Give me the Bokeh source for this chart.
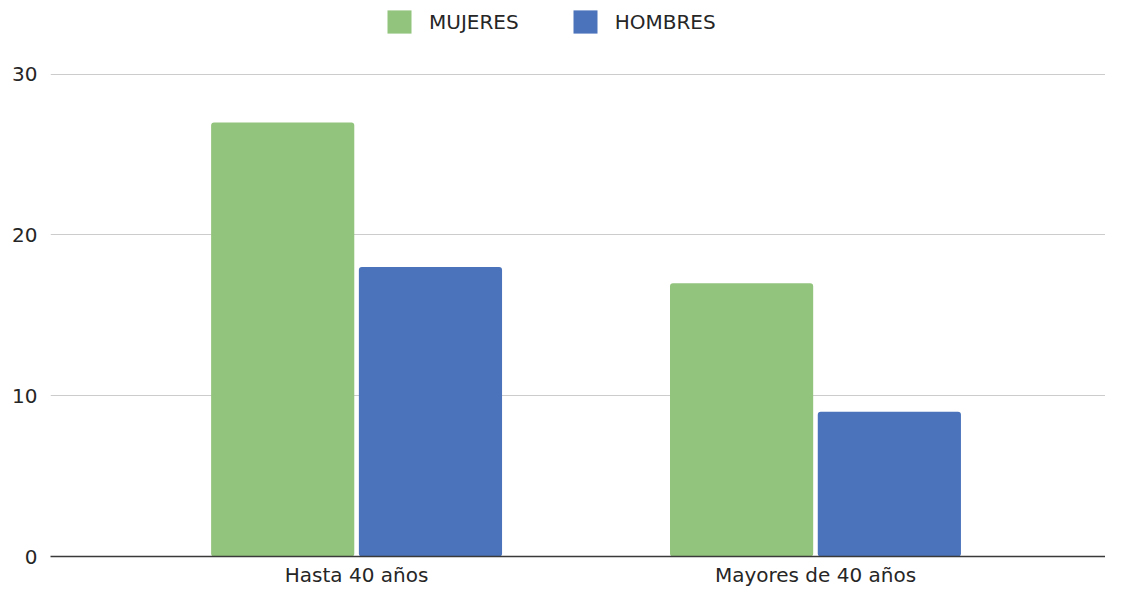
from bokeh.plotting import figure
from bokeh.models import ColumnDataSource, Range1d, FixedTicker, Legend, LegendItem
from bokeh.transform import dodge
from bokeh.embed import file_html
from bokeh.resources import INLINE

categories = ["Hasta 40 años", "Mayores de 40 años"]
series_names = ["MUJERES", "HOMBRES"]
mujeres = [27, 17]
hombres = [18, 9]
y_ticks = [0, 10, 20, 30]
colors = ["#93c47d", "#4a73bb"]

cat_pos = list(range(len(categories)))
source = ColumnDataSource(data=dict(pos=cat_pos, cat=categories, mujeres=mujeres, hombres=hombres))

FONT = "DejaVu Sans"
TEXT = "#262626"

p = figure(
    x_range=Range1d(-0.667, 1.632),
    y_range=Range1d(0, 34.58),
    width=1105, height=589,
    output_backend="svg", toolbar_location=None,
    min_border_left=50, min_border_right=0, min_border_top=0, min_border_bottom=30,
)
p.outline_line_color = None

r1 = p.vbar(x=dodge("pos", -0.161), top="mujeres", width=0.312,
            source=source, fill_color=colors[0], line_color=None, border_radius=3)
r2 = p.vbar(x=dodge("pos", 0.161), top="hombres", width=0.312,
            source=source, fill_color=colors[1], line_color=None, border_radius=3)

p.yaxis.ticker = FixedTicker(ticks=y_ticks)
p.yaxis.axis_line_color = None
p.yaxis.major_tick_line_color = None
p.yaxis.major_tick_out = 0
p.yaxis.minor_tick_line_color = None
p.yaxis.major_label_standoff = 13
p.yaxis.major_label_text_font = FONT
p.yaxis.major_label_text_font_size = "20px"
p.yaxis.major_label_text_color = TEXT

p.xaxis.ticker = FixedTicker(ticks=cat_pos)
p.xaxis.major_label_overrides = {i: c for i, c in zip(cat_pos, categories)}
p.xaxis.axis_line_color = "#3a3a3a"
p.xaxis.axis_line_width = 1.5
p.xaxis.major_tick_line_color = None
p.xaxis.major_tick_out = 0
p.xaxis.major_tick_in = 0
p.xaxis.minor_tick_line_color = None
p.xaxis.minor_tick_out = 0
p.xaxis.major_label_standoff = 6
p.xaxis.major_label_text_font = FONT
p.xaxis.major_label_text_font_size = "20px"
p.xaxis.major_label_text_color = TEXT

p.xgrid.grid_line_color = None
p.ygrid.ticker = FixedTicker(ticks=y_ticks)
p.ygrid.grid_line_color = "#cccccc"
p.ygrid.grid_line_width = 1

legend = Legend(
    items=[LegendItem(label=series_names[0], renderers=[r1]),
           LegendItem(label=series_names[1], renderers=[r2])],
    location=(334, 520), orientation="horizontal",
    border_line_color=None, background_fill_alpha=0,
    glyph_width=30, glyph_height=29, label_height=29, label_standoff=15, spacing=51,
    margin=0, padding=0,
    label_text_font=FONT, label_text_font_size="20px", label_text_color=TEXT,
)
p.add_layout(legend)

open("out.html", "w").write(file_html(p, INLINE))
